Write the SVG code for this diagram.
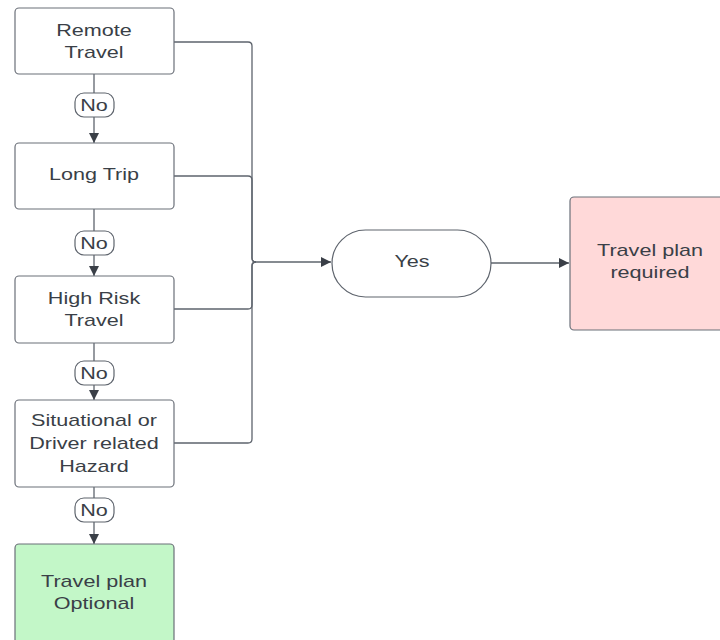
<svg xmlns="http://www.w3.org/2000/svg" width="720" height="640" viewBox="0 0 720 640">
<style>
.box{fill:#ffffff;stroke:#6b7079;stroke-width:1.2}
.t{font-family:"Liberation Sans",Arial,sans-serif;font-size:17px;fill:#3a3f47;text-anchor:middle}
.c{fill:none;stroke:#5e646d;stroke-width:1.3}
.pill{fill:#ffffff;stroke:#5e646d;stroke-width:1.2}
</style>
<defs>
<marker id="ah" viewBox="0 0 10 10" refX="10" refY="5" markerWidth="10" markerHeight="10" markerUnits="userSpaceOnUse" orient="auto">
<path d="M0,0 L10,5 L0,10 Z" fill="#3a3f47"/>
</marker>
</defs>
<rect width="720" height="640" fill="#ffffff"/>
<g id="connectors">
<path class="c" d="M94,74 V143" marker-end="url(#ah)"/>
<path class="c" d="M94,209 V276" marker-end="url(#ah)"/>
<path class="c" d="M94,343 V400" marker-end="url(#ah)"/>
<path class="c" d="M94,487 V544" marker-end="url(#ah)"/>
<path class="c" d="M174,42 H248 Q252,42 252,46 V258 Q252,262 256,262"/>
<path class="c" d="M174,176 H248 Q252,176 252,180 V258 Q252,262 256,262"/>
<path class="c" d="M174,309 H248 Q252,309 252,305 V266 Q252,262 256,262"/>
<path class="c" d="M174,443 H248 Q252,443 252,439 V266 Q252,262 256,262"/>
<path class="c" d="M256,262 H331" marker-end="url(#ah)"/>
<path class="c" d="M491,263 H569" marker-end="url(#ah)"/>
<g id="labels">
<rect class="pill" x="75" y="93" width="39" height="24" rx="9"/>
<text class="t" transform="matrix(1.27 0 0 1 94 0)" x="0" y="111">No</text>
<rect class="pill" x="75" y="231" width="39" height="24" rx="9"/>
<text class="t" transform="matrix(1.27 0 0 1 94 0)" x="0" y="249">No</text>
<rect class="pill" x="75" y="361" width="39" height="24" rx="9"/>
<text class="t" transform="matrix(1.27 0 0 1 94 0)" x="0" y="379">No</text>
<rect class="pill" x="75" y="498" width="39" height="24" rx="9"/>
<text class="t" transform="matrix(1.27 0 0 1 94 0)" x="0" y="516">No</text>
</g>
</g>
<g id="remote">
<rect class="box" x="15" y="8" width="159" height="66" rx="4"/>
<text class="t" transform="matrix(1.27 0 0 1 94 0)" x="0" y="36">Remote</text>
<text class="t" transform="matrix(1.27 0 0 1 94 0)" x="0" y="58">Travel</text>
</g>
<g id="longtrip">
<rect class="box" x="15" y="143" width="159" height="66" rx="4"/>
<text class="t" transform="matrix(1.27 0 0 1 94 0)" x="0" y="180">Long Trip</text>
</g>
<g id="highrisk">
<rect class="box" x="15" y="276" width="159" height="67" rx="4"/>
<text class="t" transform="matrix(1.27 0 0 1 94 0)" x="0" y="304">High Risk</text>
<text class="t" transform="matrix(1.27 0 0 1 94 0)" x="0" y="326">Travel</text>
</g>
<g id="situational">
<rect class="box" x="15" y="400" width="159" height="87" rx="4"/>
<text class="t" transform="matrix(1.27 0 0 1 94 0)" x="0" y="426">Situational or</text>
<text class="t" transform="matrix(1.27 0 0 1 94 0)" x="0" y="449">Driver related</text>
<text class="t" transform="matrix(1.27 0 0 1 94 0)" x="0" y="472">Hazard</text>
</g>
<g id="optional">
<rect class="box" x="15" y="544" width="159" height="110" rx="4" style="fill:#c3f7c8"/>
<text class="t" transform="matrix(1.27 0 0 1 94 0)" x="0" y="587">Travel plan</text>
<text class="t" transform="matrix(1.27 0 0 1 94 0)" x="0" y="609">Optional</text>
</g>
<g id="yes">
<rect class="pill" x="332" y="230" width="159" height="67" rx="33.5"/>
<text class="t" transform="matrix(1.27 0 0 1 412 0)" x="0" y="267">Yes</text>
</g>
<g id="required">
<rect class="box" x="570" y="197" width="160" height="133" rx="4" style="fill:#ffd9d9"/>
<text class="t" transform="matrix(1.27 0 0 1 650 0)" x="0" y="256">Travel plan</text>
<text class="t" transform="matrix(1.27 0 0 1 650 0)" x="0" y="278">required</text>
</g>
</svg>
